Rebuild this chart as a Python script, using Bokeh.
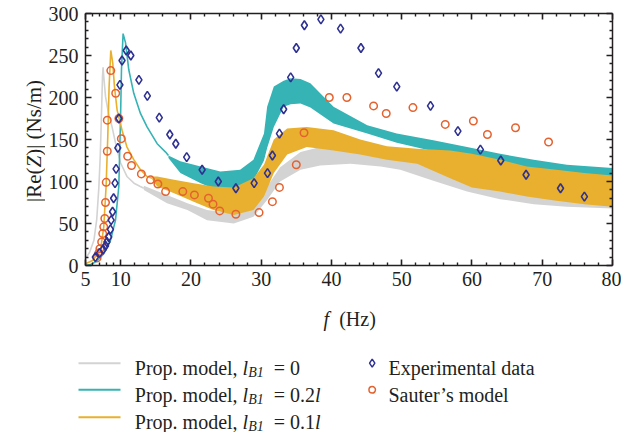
from math import pi

from bokeh.embed import file_html
from bokeh.layouts import row
from bokeh.models import FixedTicker, Label, LinearAxis, Range1d
from bokeh.plotting import figure
from bokeh.resources import INLINE

# ---------------------------------------------------------------- data
# Experimental data
exp_f = [6.4, 7.0, 7.5, 7.85, 8.05, 8.3, 8.55, 8.65, 8.85, 9.0, 9.2, 9.35, 9.6, 9.75,
         9.9, 10.2, 10.8, 11.45, 12.6, 13.8, 15.5, 17.0, 17.85, 19.4, 21.6, 23.9, 26.4,
         29.0, 30.9, 31.6, 32.6, 33.2, 34.2, 35.0, 36.15, 38.5, 41.3, 44.2, 46.7, 49.3,
         54.1, 58.0, 61.2, 64.1, 67.7, 72.6, 76.0]
exp_v = [10, 15, 19, 23.5, 28, 34, 43, 54, 64, 80, 98, 115, 140, 175,
         215, 244, 256, 250, 221, 202, 176, 156, 145, 129, 114, 100, 92,
         98, 110, 131, 157, 186, 224, 259, 286, 293, 282, 259, 229, 213,
         190, 160, 138, 125, 108, 92, 82]

# Sauter's model
sau_f = [6.65, 6.9, 7.05, 7.3, 7.45, 7.6, 7.75, 7.85, 7.95, 8.1, 8.1, 8.6, 9.3, 9.75,
         10.1, 11.0, 11.55, 12.95, 14.25, 15.3, 16.4, 18.85, 20.5, 22.5, 23.15, 24.1,
         26.4, 29.7, 31.6, 32.6, 35.0, 36.1, 39.7, 42.2, 46.0, 47.8, 51.6, 56.2, 60.2,
         62.2, 66.2, 70.9]
sau_v = [9, 15, 20, 28, 38, 46, 56, 75, 99, 136, 173, 232, 205, 175,
         151, 130, 119, 109, 102, 97, 88, 88, 84, 80, 73, 65,
         61, 63, 76, 93, 120, 158, 200, 200, 190, 181, 188, 168, 172,
         156, 164, 147]

# Proposed model, l_B1 = 0: single curve, then oscillation envelope
g_f = [5.0, 5.6, 6.2, 6.6, 6.9, 7.1, 7.25, 7.42, 7.5, 7.6, 7.85, 8.27, 8.78, 9.4,
       10.0, 10.9, 11.9, 12.8, 13.3]
g_v = [8, 16, 30, 55, 93, 130, 173, 225, 236, 225, 201, 181, 165, 141,
       122, 106, 98, 94, 92]
gb_f = [13.3, 16.6, 19.5, 22.3, 26.1, 28.9, 30.85, 32.7, 35.6, 38.4, 42.7, 47.0,
        49.8, 54.5, 59.3, 64.0, 68.8, 73.5, 80.0]
gb_hi = [95, 84, 74, 66, 62, 70, 94, 117, 135, 141, 139, 133, 127, 118, 110, 103,
         97, 92, 88]
gb_lo = [90, 74, 66, 54, 50, 58, 78, 100, 114, 119, 121, 118, 114, 101, 88, 79,
         73, 70, 68]

# Proposed model, l_B1 = 0.2l
t_f = [5.0, 5.7, 6.6, 7.6, 8.56, 9.27, 9.74, 9.98, 10.12, 10.35, 10.7, 11.16, 11.87,
       12.82, 13.76, 15.2, 16.4, 16.8]
t_v = [0, 1, 5, 14, 30, 54, 94, 173, 233, 276, 265, 233, 205,
       181, 165, 145, 135, 131]
tb_f = [16.8, 18.5, 21.4, 24.2, 27.0, 28.9, 30.4, 30.85, 31.8, 33.2, 34.2, 35.6,
        37.0, 40.3, 45.1, 49.3, 54.5, 59.3, 64.0, 68.8, 73.5, 80.0]
tb_hi = [131, 124, 118, 112, 114, 126, 157, 189, 213, 220, 223, 222,
         217, 189, 167, 157, 149, 141, 133, 126, 120, 116]
tb_lo = [128, 110, 98, 88, 90, 101, 125, 140, 165, 189, 192, 193,
         188, 169, 157, 146, 136, 126, 115, 103, 90, 72]

# Proposed model, l_B1 = 0.1l
o_f = [5.0, 6.0, 7.13, 7.6, 7.93, 8.17, 8.36, 8.6, 8.88, 9.12, 9.5, 10.2, 10.9,
       11.87, 12.82, 13.76, 14.5]
o_v = [2, 6, 18, 46, 94, 153, 213, 256, 241, 213, 185, 161, 141,
       126, 114, 106, 104]
ob_f = [14.5, 15.2, 17.6, 20.4, 23.2, 26.1, 28.9, 30.4, 31.8, 33.7, 36.5, 40.3,
        44.1, 47.9, 52.2, 56.9, 60.0, 64.0, 67.8, 72.0, 76.0, 80.0]
ob_hi = [106, 106, 102, 98, 94, 93, 104, 120, 150, 163, 165, 161,
         150, 142, 139, 137, 133, 126, 118, 114, 110, 107]
ob_lo = [102, 94, 86, 76, 66, 60, 66, 82, 110, 132, 141, 137,
         132, 126, 121, 104, 93, 88, 82, 77, 73, 70]

x_major = [5, 10, 20, 30, 40, 50, 60, 70, 80]
x_minor = [6, 7, 8, 9] + [v for v in range(12, 80, 2) if v % 10]
y_major = [0, 50, 100, 150, 200, 250, 300]
y_minor = [v for v in range(0, 301, 10) if v % 50]

legend_values = ["0", "0.2l", "0.1l"]

# ---------------------------------------------------------------- styles
FONT = "Liberation Serif"
TXT = "#231f20"
GRAY = "#d3d3d3"
TEAL = "#36b3b5"
GOLD = "#e8b02e"
NAVY = "#2e3192"
RED = "#e5622f"

# Times-compatible advance widths (1/1000 em) used to chain mixed-style text
ROMAN = {' ': 250, '(': 333, ')': 333, '|': 200, 'R': 667, 'e': 444, 'Z': 611,
         'N': 722, 's': 389, '/': 278, 'm': 778, 'P': 556, 'r': 333, 'o': 500,
         'p': 500, '.': 250, 'd': 500, 'l': 278, ',': 250, '=': 564, '0': 500,
         '1': 500, '2': 500, 'B': 667, 'H': 722, 'z': 444, 'f': 333}
ITALIC = {'Z': 556, 'l': 278, 'B': 611, '1': 500, 'f': 278}


def advance(s, size, italic=False):
    table = ITALIC if italic else ROMAN
    return sum(table.get(c, ROMAN.get(c, 500)) for c in s) * size / 1000.0


W = 621
H_MAIN = 295
H_LEG = 432 - H_MAIN
YSTRIP = 45                          # width of the strip holding the y title
FL, FR, FT, FB = 85, 612, 13, 265   # plot frame edges in page pixels


def lab(fig, x, y, text, size=20, italic=False, angle=0.0):
    fig.add_layout(Label(x=x, y=y, text=text, text_font=FONT,
                         text_font_size=f"{size}px", angle=angle,
                         text_font_style="italic" if italic else "normal",
                         text_color=TXT, text_align="left",
                         text_baseline="alphabetic"))


def blank(fig):
    fig.grid.visible = False
    fig.outline_line_color = None
    fig.border_fill_color = "white"
    fig.background_fill_color = "white"


# ---------------------------------------------------------------- main plot
p = figure(width=W - YSTRIP, height=H_MAIN, output_backend="svg",
           toolbar_location=None,
           x_range=Range1d(5, 80), y_range=Range1d(0, 300),
           min_border_left=FL - YSTRIP, min_border_right=W - FR,
           min_border_top=FT, min_border_bottom=H_MAIN - FB)
blank(p)

# l_B1 = 0
p.varea(x=gb_f, y1=gb_lo, y2=gb_hi, fill_color=GRAY)
p.line(g_f, g_v, line_color=GRAY, line_width=1.6)
# l_B1 = 0.2l
p.varea(x=tb_f, y1=tb_lo, y2=tb_hi, fill_color=TEAL)
p.line(t_f, t_v, line_color=TEAL, line_width=1.6)
# l_B1 = 0.1l
p.varea(x=ob_f, y1=ob_lo, y2=ob_hi, fill_color=GOLD)
p.line(o_f, o_v, line_color=GOLD, line_width=1.6)

p.scatter(sau_f, sau_v, marker="circle", size=7.5, fill_color=None,
          line_color=RED, line_width=1.5)
p.scatter(exp_f, exp_v, marker="diamond", size=9, fill_color=None,
          line_color=NAVY, line_width=1.6)


def style_axis(ax, labels=True):
    ax.axis_line_color = TXT
    ax.axis_line_width = 1.5
    ax.major_tick_line_color = TXT
    ax.minor_tick_line_color = TXT
    ax.major_tick_line_width = 1.6
    ax.minor_tick_line_width = 1.4
    ax.major_tick_in = 6
    ax.major_tick_out = 0
    ax.minor_tick_in = 3
    ax.minor_tick_out = 0
    if labels:
        ax.major_label_text_font = FONT
        ax.major_label_text_font_size = "20px"
        ax.major_label_text_color = TXT
    else:
        ax.major_label_overrides = {t: "" for t in ax.ticker.ticks}
        ax.major_label_text_font_size = "1px"
        ax.major_label_standoff = 0


xt = FixedTicker(ticks=x_major, minor_ticks=x_minor)
yt = FixedTicker(ticks=y_major, minor_ticks=y_minor)
p.xaxis.ticker = xt
p.yaxis.ticker = yt
for ax in p.xaxis + p.yaxis:
    style_axis(ax)
p.xaxis.major_label_standoff = 6
p.yaxis.major_label_standoff = 7

top = LinearAxis(ticker=xt)
right = LinearAxis(ticker=yt)
style_axis(top, labels=False)
style_axis(right, labels=False)
p.add_layout(top, "above")
p.add_layout(right, "right")

# ---------------------------------------------------------------- y title strip
# data coordinates here are page pixels
ys = figure(width=YSTRIP, height=H_MAIN, output_backend="svg",
            toolbar_location=None,
            x_range=Range1d(0, YSTRIP), y_range=Range1d(FB, FT),
            x_axis_type=None, y_axis_type=None,
            min_border_left=0, min_border_right=0,
            min_border_top=FT, min_border_bottom=H_MAIN - FB)
blank(ys)

ylab = [("|Re(", False), ("Z", True), (")| (Ns/m)", False)]
ysize = 21
total = sum(advance(s, ysize, it) for s, it in ylab)
ypos = 140.5 + total / 2.0
for s, it in ylab:
    lab(ys, 33, ypos, s, ysize, it, angle=pi / 2)
    ypos -= advance(s, ysize, it)

# ---------------------------------------------------------------- legend strip
# coordinates in this strip are page pixels, measured from the strip's top
q = figure(width=W, height=H_LEG, output_backend="svg", toolbar_location=None,
           x_range=Range1d(0, W), y_range=Range1d(H_LEG, 0),
           x_axis_type=None, y_axis_type=None,
           min_border_left=0, min_border_right=0, min_border_top=0,
           min_border_bottom=0)
blank(q)


def chain(fig, x0, y, pieces):
    """Lay out (text, italic, size, y_offset) pieces one after another."""
    for s, it, size, yoff in pieces:
        body = s.strip()
        lead = s[:len(s) - len(s.lstrip())]
        if body:
            lab(fig, x0 + advance(lead, size, it), y + yoff, body, size, it)
        x0 += advance(s, size, it)
    return x0


def width(pieces):
    return sum(advance(s, size, it) for s, it, size, _ in pieces)


# x axis title "f (Hz)" with italic f
xlab = [("f", True, 20, 0), ("  (Hz)", False, 20, 0)]
chain(q, 349.2 - width(xlab) / 2.0, 318 - H_MAIN, xlab)

row_mid = [362.7, 389.3, 416.7]
row_base = [367.3, 394.0, 421.0]
line_colors = [GRAY, TEAL, GOLD]
for mid, base, col, val in zip(row_mid, row_base, line_colors, legend_values):
    q.line([78, 120], [mid - H_MAIN, mid - H_MAIN], line_color=col, line_width=2)
    pieces = [("Prop. model, ", False, 20, 0), ("l", True, 20, 0),
              ("B1", True, 14, 4.5)]
    if val.endswith("l"):
        pieces += [("  = " + val[:-1], False, 20, 0), ("l", True, 20, 0)]
    else:
        pieces += [("  = " + val, False, 20, 0)]
    chain(q, 134.3, base - H_MAIN, pieces)

q.scatter([371.7], [row_mid[0] - H_MAIN], marker="diamond", size=8,
          fill_color=None, line_color=NAVY, line_width=1.5)
q.scatter([371.7], [row_mid[1] - H_MAIN], marker="circle", size=6.5,
          fill_color=None, line_color=RED, line_width=1.5)
lab(q, 388, row_base[0] - H_MAIN, "Experimental data")
lab(q, 388, row_base[1] - H_MAIN, "Sauter\u2019s model")

open("out.html", "w").write(file_html([row(ys, p, spacing=0), q], INLINE))
